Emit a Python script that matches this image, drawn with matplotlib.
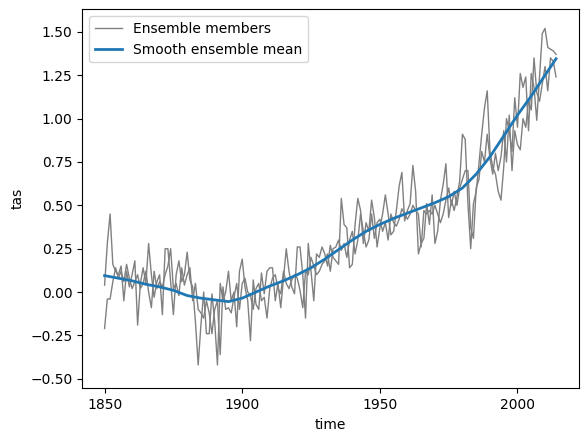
import numpy as np
import matplotlib
matplotlib.use("Agg")
import matplotlib.pyplot as plt

years = list(range(1850, 2015))

member_a = [
    0.04, 0.28, 0.45, 0.16, 0.12, 0.10, 0.15, -0.05, 0.12, 0.03,
    0.10, 0.18, -0.19, 0.05, 0.14, 0.05, 0.28, 0.10, -0.03, 0.06,
    0.10, -0.13, 0.25, 0.25, 0.06, -0.13, 0.10, 0.18, 0.06, 0.10,
    0.23, 0.07, 0.03, -0.17, -0.42, -0.19, 0.00, -0.24, -0.24, -0.01,
    -0.17, -0.42, 0.05, -0.05, 0.00, 0.12, -0.05, 0.00, -0.20, 0.12,
    0.19, 0.03, -0.05, -0.28, 0.07, -0.07, -0.10, 0.11, -0.01, 0.12,
    0.14, 0.14, -0.05, 0.05, -0.09, 0.08, 0.25, 0.12, 0.03, -0.01,
    0.26, 0.26, 0.10, -0.15, 0.28, 0.12, -0.05, 0.22, 0.20, 0.26,
    0.22, 0.15, 0.27, 0.20, 0.18, 0.16, 0.54, 0.39, 0.37, 0.14,
    0.16, 0.39, 0.54, 0.47, 0.28, 0.40, 0.35, 0.53, 0.43, 0.26,
    0.37, 0.45, 0.56, 0.45, 0.33, 0.35, 0.47, 0.61, 0.69, 0.41,
    0.47, 0.51, 0.73, 0.58, 0.22, 0.28, 0.31, 0.51, 0.39, 0.56,
    0.28, 0.35, 0.53, 0.62, 0.74, 0.43, 0.53, 0.47, 0.55, 0.64,
    0.91, 0.88, 0.51, 0.25, 0.51, 0.58, 0.74, 0.91, 1.06, 1.16,
    0.81, 0.72, 0.68, 0.58, 0.53, 0.72, 1.00, 0.93, 0.81, 1.12,
    0.95, 1.26, 1.18, 1.24, 0.93, 1.26, 1.18, 0.99, 1.24, 1.49,
    1.52, 1.41, 1.40, 1.39, 1.37,
]

member_b = [
    -0.21, -0.04, -0.04, 0.06, 0.14, 0.08, 0.12, 0.06, 0.16, 0.08,
    0.02, 0.06, 0.10, 0.02, 0.05, 0.12, 0.00, -0.09, 0.12, 0.02,
    0.06, 0.03, 0.10, 0.15, 0.25, 0.02, 0.05, -0.02, 0.14, 0.04,
    0.10, 0.14, -0.05, 0.05, -0.10, -0.12, -0.15, -0.05, -0.12, -0.24,
    -0.10, -0.05, -0.36, 0.03, -0.10, -0.09, -0.12, -0.03, 0.05, -0.10,
    0.05, 0.08, 0.00, -0.02, -0.10, 0.02, 0.05, -0.05, -0.03, -0.15,
    0.02, 0.08, 0.10, 0.02, -0.01, 0.12, 0.05, 0.02, 0.07, 0.10,
    0.08, 0.01, -0.09, 0.12, 0.10, 0.20, 0.15, 0.10, 0.12, 0.16,
    0.18, 0.22, 0.12, 0.25, 0.26, 0.30, 0.24, 0.28, 0.20, 0.30,
    0.35, 0.22, 0.30, 0.45, 0.35, 0.26, 0.30, 0.45, 0.31, 0.40,
    0.42, 0.35, 0.40, 0.30, 0.45, 0.40, 0.38, 0.42, 0.48, 0.45,
    0.42, 0.45, 0.50, 0.47, 0.45, 0.26, 0.47, 0.45, 0.47, 0.45,
    0.50, 0.45, 0.40, 0.45, 0.53, 0.60, 0.50, 0.58, 0.50, 0.60,
    0.65, 0.70, 0.70, 0.37, 0.31, 0.60, 0.65, 0.81, 0.75, 0.91,
    0.77, 0.68, 0.80, 0.70, 0.78, 0.93, 0.75, 1.02, 0.70, 0.93,
    0.85, 0.82, 1.00, 0.95, 1.10, 1.05, 1.35, 1.15, 1.10, 1.20,
    1.30, 1.16, 1.35, 1.33, 1.24,
]

mean_years = [1850, 1855, 1860, 1865, 1870, 1875, 1880, 1885, 1890, 1895,
              1900, 1905, 1910, 1915, 1920, 1925, 1930, 1935, 1940, 1945,
              1950, 1955, 1960, 1965, 1970, 1975, 1980, 1985, 1990, 1995,
              2000, 2005, 2010, 2014]
smooth_mean = [0.095, 0.08, 0.065, 0.045, 0.03, 0.01, -0.02, -0.035, -0.045, -0.055,
               -0.035, 0.0, 0.035, 0.065, 0.10, 0.14, 0.19, 0.245, 0.30, 0.35,
               0.39, 0.425, 0.455, 0.485, 0.515, 0.55, 0.60, 0.68, 0.78, 0.90,
               1.02, 1.13, 1.25, 1.345]

fig = plt.figure(figsize=(5.87, 4.32), dpi=100)
ax = fig.add_axes([0.1397, 0.101, 0.846, 0.8775])

ax.plot(years, member_a, color="gray", lw=1, label="Ensemble members")
ax.plot(years, member_b, color="gray", lw=1)
ax.plot(mean_years, smooth_mean, color="tab:blue", lw=2, label="Smooth ensemble mean")

ax.set_ylim(-0.555, 1.63)
ax.set_xticks([1850, 1900, 1950, 2000])
ax.set_yticks([-0.5, -0.25, 0.0, 0.25, 0.5, 0.75, 1.0, 1.25, 1.5])
ax.set_xlabel("time")
ax.set_ylabel("tas")
ax.legend(loc="upper left")

fig.savefig("out.png", dpi=100)
